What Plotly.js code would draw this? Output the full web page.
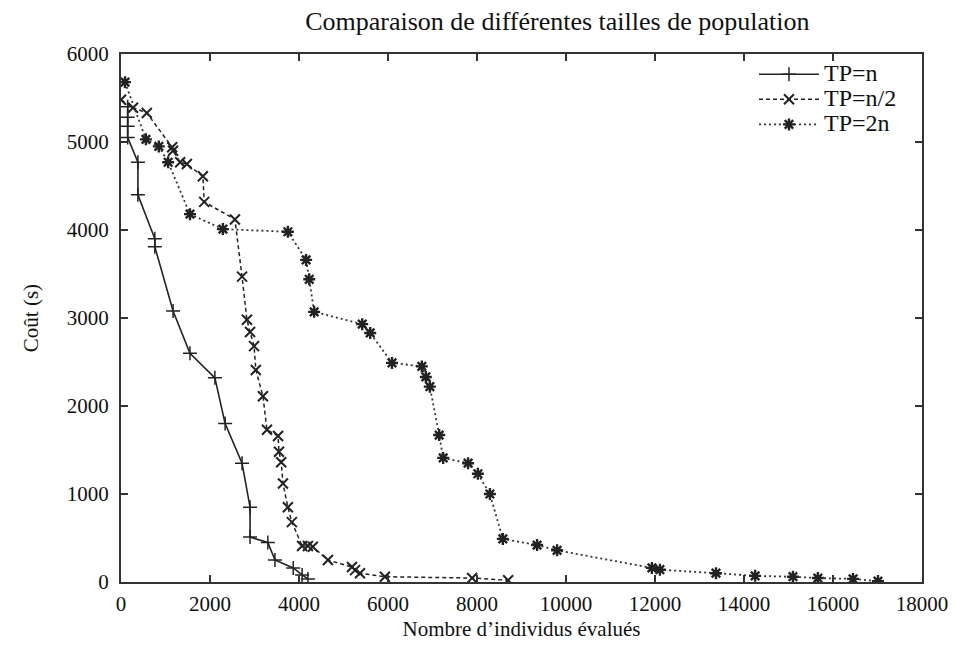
<!DOCTYPE html>
<html>
<head>
<meta charset="utf-8">
<script src="https://cdn.plot.ly/plotly-3.0.1.min.js"></script>
<style>html,body{margin:0;padding:0;background:#fff}#chart{width:956px;height:654px}</style>
</head>
<body>
<div id="chart"></div>
<script>
// TP=n
const tpnX = [150,150,150,150,380,380,760,760,1170,1550,2110,2340,2720,2900,2900,3300,3460,3870,4070,4200];
const tpnY = [5400,5280,5180,5050,4770,4400,3900,3810,3080,2600,2320,1800,1350,850,510,450,250,160,80,35];
// TP=n/2
const tpn2X = [0,270,580,1150,1170,1330,1480,1840,1870,2560,2720,2830,2900,2990,3030,3190,3280,3530,3550,3600,3640,3750,3840,4070,4200,4310,4650,5190,5260,5370,5930,7890,8700];
const tpn2Y = [5480,5390,5330,4940,4900,4770,4750,4610,4320,4120,3470,2980,2840,2680,2410,2110,1730,1660,1480,1360,1120,850,680,410,410,400,250,170,135,100,60,45,20];
// TP=2n
const tp2nX = [90,560,850,1060,1550,2290,3750,4160,4230,4340,5420,5600,6090,6760,6850,6940,7150,7240,7800,8020,8290,8580,9350,9800,11930,12110,13370,14250,15100,15660,16450,17010];
const tp2nY = [5680,5030,4950,4770,4180,4010,3980,3660,3440,3070,2930,2830,2490,2450,2330,2220,1670,1410,1350,1230,1000,490,420,360,160,140,100,70,60,45,35,10];

const names = ['TP=n','TP=n/2','TP=2n'];
const xTicks = [0,2000,4000,6000,8000,10000,12000,14000,16000,18000];
const yTicks = [0,1000,2000,3000,4000,5000,6000];

const FONT = 'Liberation Serif, Times New Roman, serif';
const legendName = n => '<span style="font-size:24px">' + n + '</span>';

const traces = [
  {x: tpnX, y: tpnY, name: legendName(names[0]), mode: 'lines+markers',
   line: {color: '#222', width: 1.6, dash: 'solid'},
   marker: {symbol: 'cross-thin-open', size: 10, color: '#222', line: {color: '#222', width: 1.5}}},
  {x: tpn2X, y: tpn2Y, name: legendName(names[1]), mode: 'lines+markers',
   line: {color: '#222', width: 1.5, dash: '4px,3px'},
   marker: {symbol: 'x-thin-open', size: 10, color: '#222', line: {color: '#222', width: 2}}},
  {x: tp2nX, y: tp2nY, name: legendName(names[2]), mode: 'lines+markers',
   line: {color: '#333', width: 1.8, dash: '2px,3px'},
   marker: {symbol: 'asterisk-open', size: 10, color: '#222', line: {color: '#222', width: 2.4}}}
];

const axisCommon = {
  showline: true, linecolor: '#333', linewidth: 2, mirror: 'ticks',
  ticks: 'inside', ticklen: 7, tickwidth: 1.5, tickcolor: '#333',
  showgrid: false, zeroline: false,
  tickfont: {family: FONT, size: 21, color: '#111'}
};

const layout = {
  width: 956, height: 654,
  margin: {l: 121, r: 34, t: 54, b: 72},
  paper_bgcolor: '#fff', plot_bgcolor: '#fff',
  title: {text: 'Comparaison de différentes tailles de population',
          font: {family: FONT, size: 26, color: '#111'}, x: 0.583, xanchor: 'center', y: 0.968, yanchor: 'middle'},
  xaxis: Object.assign({}, axisCommon, {range: [0, 18000], tickvals: xTicks, ticktext: xTicks.map(String),
    ticklabelstandoff: 2,
    title: {text: 'Nombre d\u2019individus évalués', font: {family: FONT, size: 21, color: '#111'}, standoff: 6}}),
  yaxis: Object.assign({}, axisCommon, {range: [0, 6000], tickvals: yTicks, ticktext: yTicks.map(String),
    ticklabelstandoff: 6,
    title: {text: 'Coût (s)', font: {family: FONT, size: 21, color: '#111'}, standoff: 22}}),
  showlegend: true,
  legend: {x: 0.975, y: 0.995, xanchor: 'right', yanchor: 'top', bgcolor: 'rgba(0,0,0,0)',
           font: {family: FONT, size: 17, color: '#111'}, itemwidth: 60, tracegroupgap: 0}
};

Plotly.newPlot('chart', traces, layout, {displayModeBar: false, staticPlot: true});
</script>
</body>
</html>
